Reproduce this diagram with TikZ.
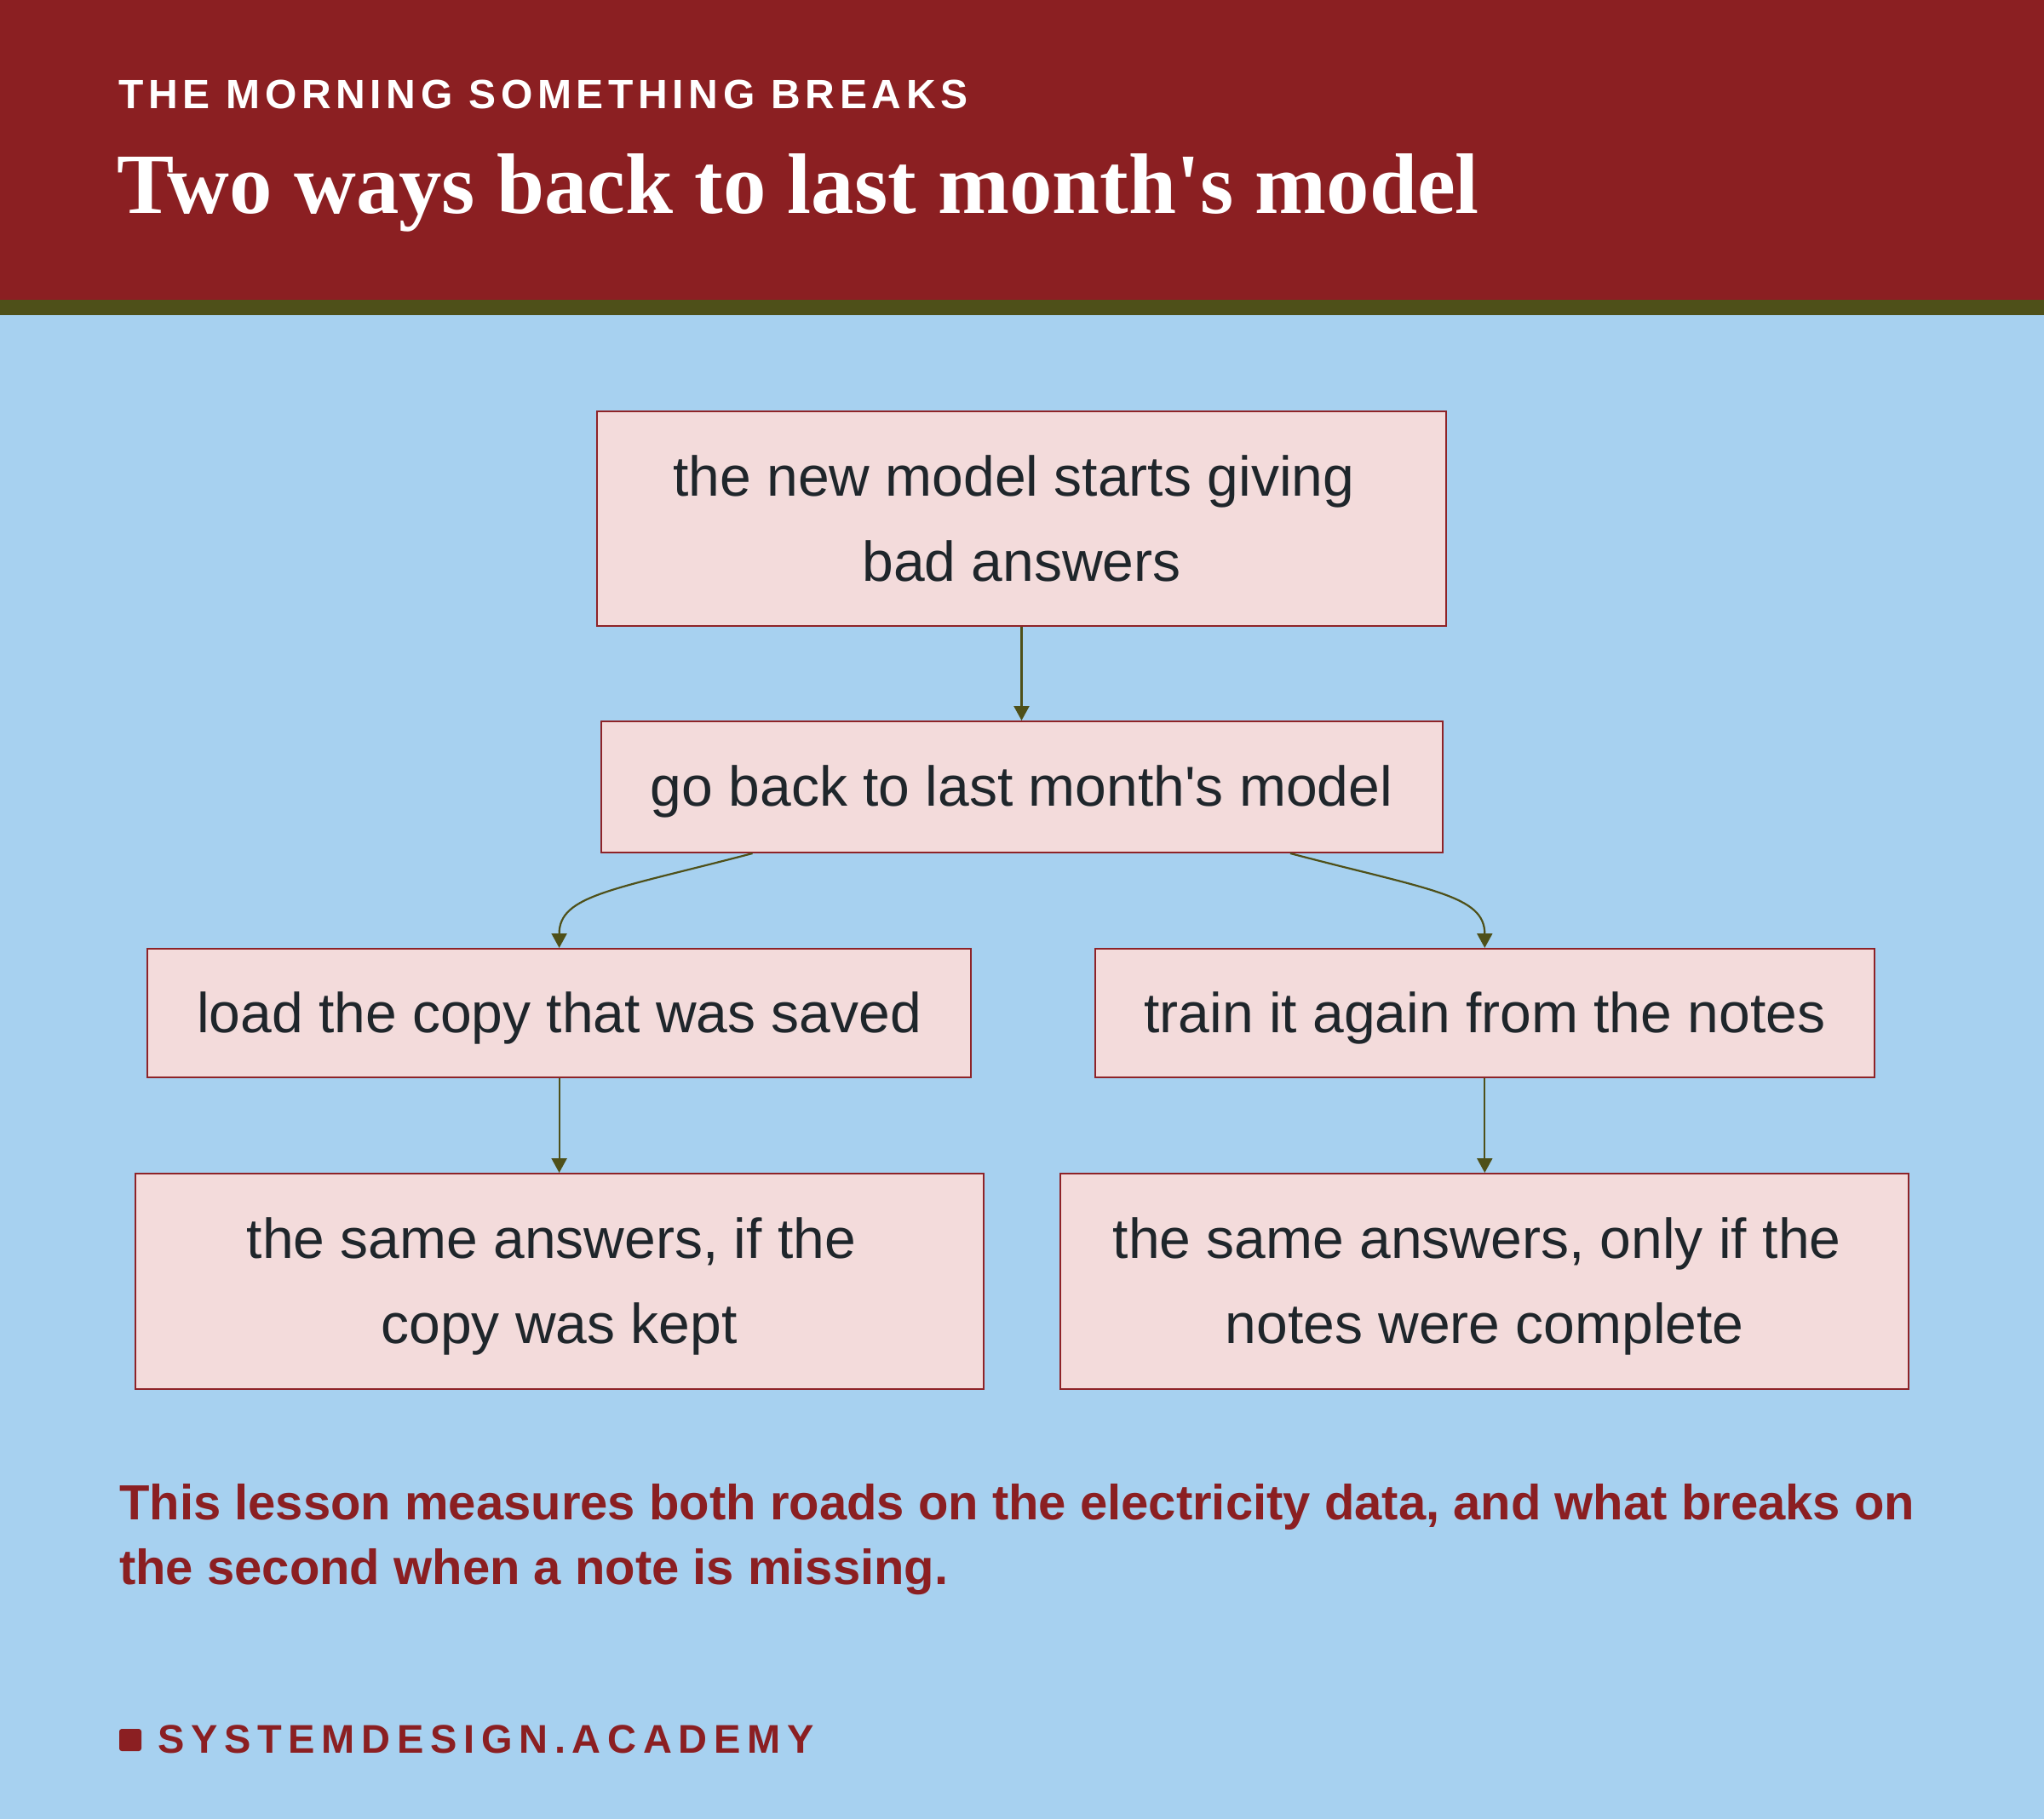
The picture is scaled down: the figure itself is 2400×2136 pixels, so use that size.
\documentclass[tikz,border=0pt]{standalone}
\usepackage{fontspec}
\newfontfamily\boxfont{Liberation Sans}
\newfontfamily\titlefont{Liberation Serif}
\newfontfamily\subfont[LetterSpace=11.8]{Liberation Sans}
\newfontfamily\footfont[LetterSpace=16.4]{Liberation Sans}
\usetikzlibrary{arrows.meta}
\definecolor{hdred}{HTML}{8B1F22}
\definecolor{olivec}{HTML}{4E5019}
\definecolor{skyb}{HTML}{A7D1F0}
\definecolor{boxfill}{HTML}{F3DBDB}
\definecolor{boxline}{HTML}{8E2328}
\definecolor{ink}{HTML}{1F262B}
\newcommand\ls{\rule[-0.19em]{0pt}{1.09em}}
\newcommand\tsp{\kern0.278em}
\begin{document}
\begin{tikzpicture}[x=1pt,y=-1pt,
  boxnode/.style={draw=boxline, line width=2pt, fill=boxfill, inner sep=0pt,
    align=center, text=ink, font=\boxfont\fontsize{66pt}{100pt}\selectfont},
  conn/.style={draw=olivec, line width=2.2pt, -{Triangle[width=18pt,length=17pt]}},
  plain/.style={inner sep=0pt, anchor=base west}]
\useasboundingbox (0,0) rectangle (2400,2136);
\fill[skyb] (0,0) rectangle (2400,2136);
\fill[hdred] (0,0) rectangle (2400,352);
\fill[olivec] (0,352) rectangle (2400,370);

\node[plain, text=white, font=\subfont\bfseries\fontsize{48pt}{58pt}\selectfont] (kicker) at (139,127) {THE MORNING SOMETHING BREAKS};
\node[plain, text=white, font=\titlefont\bfseries\fontsize{100.8pt}{110pt}\selectfont] (title) at (137,250) {Two ways back to last month's model};

\node[boxnode, minimum width=997pt, minimum height=252pt] (b1) at (1199.5,609) {\ls the new model starts giving\tsp\\\ls bad answers};
\node[boxnode, minimum width=988pt, minimum height=154pt] (b2) at (1199.5,924) {\ls go back to last month's model};
\node[boxnode, minimum width=967pt, minimum height=151pt] (b3) at (656.6,1189.5) {\ls load the copy that was saved};
\node[boxnode, minimum width=915pt, minimum height=151pt] (b4) at (1743.3,1189.5) {\ls train it again from the notes};
\node[boxnode, minimum width=996pt, minimum height=253pt] (b5) at (656.6,1504.5) {\ls the same answers, if the\tsp\\\ls copy was kept};
\node[boxnode, minimum width=996pt, minimum height=253pt] (b6) at (1743.3,1504.5) {\ls the same answers, only if the\tsp\\\ls notes were complete};

\draw[conn] (b1.south) -- (b2.north);
\draw[conn] ([xshift=-316pt]b2.south) .. controls +(-164,43) and +(0,-62) .. (b3.north);
\draw[conn] ([xshift=315.5pt]b2.south) .. controls +(164,43) and +(0,-62) .. (b4.north);
\draw[conn] (b3.south) -- (b5.north);
\draw[conn] (b4.south) -- (b6.north);

\node[plain, text=hdred, font=\boxfont\bfseries\fontsize{58pt}{76pt}\selectfont] (note1) at (140,1784) {This lesson measures both roads on the electricity data, and what breaks on};
\node[plain, text=hdred, font=\boxfont\bfseries\fontsize{58pt}{76pt}\selectfont] (note2) at (140,1860) {the second when a note is missing.};

\fill[hdred, rounded corners=3pt] (140,2030) rectangle (166,2056);
\node[plain, text=hdred, font=\footfont\bfseries\fontsize{47pt}{56pt}\selectfont] (brand) at (185,2058) {SYSTEMDESIGN.ACADEMY};
\end{tikzpicture}
\end{document}
